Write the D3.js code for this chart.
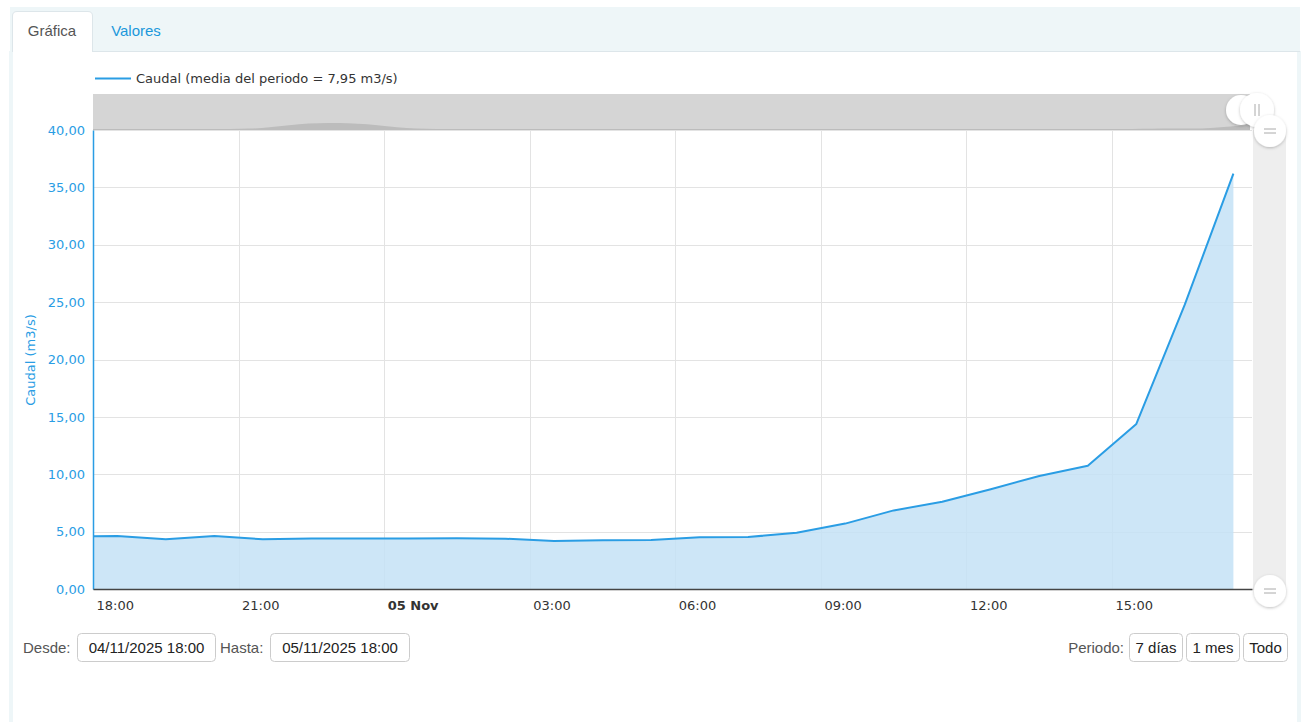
<!DOCTYPE html>
<html><head><meta charset="utf-8">
<script src="https://cdn.jsdelivr.net/npm/d3@7"></script>
<style>
html,body{margin:0;padding:0;background:#fff;}
svg{display:block;}
</style></head>
<body>
<svg id="c" width="1303" height="722"></svg>
<script>
// ---- data ----
const timestamps = ["2025-11-04T17:30","2025-11-04T18:30","2025-11-04T19:30","2025-11-04T20:30","2025-11-04T21:30",
 "2025-11-04T22:30","2025-11-04T23:30","2025-11-05T00:30","2025-11-05T01:30","2025-11-05T02:30","2025-11-05T03:30",
 "2025-11-05T04:30","2025-11-05T05:30","2025-11-05T06:30","2025-11-05T07:30","2025-11-05T08:30","2025-11-05T09:30",
 "2025-11-05T10:30","2025-11-05T11:30","2025-11-05T12:30","2025-11-05T13:30","2025-11-05T14:30","2025-11-05T15:30",
 "2025-11-05T16:30","2025-11-05T17:30"];
const caudal = [4.58,4.62,4.33,4.62,4.33,4.40,4.40,4.40,4.42,4.38,4.18,4.25,4.27,4.50,4.53,4.90,5.70,6.85,7.60,8.70,9.85,10.74,14.38,24.8,36.2];
const yTicks = [0,5,10,15,20,25,30,35,40];
const xStart = "2025-11-04T18:00";
const xEnd = "2025-11-05T17:53";
// navigator (whole history, coarse)
const navValues = [1,1,1,1,1,1,1,1,1.3,3,5.5,7.5,8,7.6,6.5,4,2,1.3,1.1,1,1,1,1,1,1,1,1,1,1,1,1,1,1,1,1,1,1,1,1,1,1,1,1,1,1,1,1,1,1,1,1,1,1,1.2,1.5,1.6,1.5,1.8,4,5.5];
const legendLabel = "Caudal (media del periodo = 7,95 m3/s)";
const yTitle = "Caudal (m3/s)";
const desde = "04/11/2025 18:00", hasta = "05/11/2025 18:00";
const periodos = ["7 días","1 mes","Todo"];

// ---- layout ----
const svg = d3.select("#c");
const L=93, R=1252, T=130, B=589;
const blue="#2a9de4", fill="#c4e2f6";
const chartFont="'DejaVu Sans', Verdana, sans-serif";
const uiFont="'Liberation Sans', Arial, sans-serif";

// panel
svg.append("rect").attr("x",10).attr("y",7).attr("width",1290).attr("height",44).attr("fill","#eef6f8");
svg.append("rect").attr("x",9).attr("y",51).attr("width",4).attr("height",671).attr("fill","#eef6f8");
svg.append("rect").attr("x",1297).attr("y",51).attr("width",4).attr("height",671).attr("fill","#eef6f8");
svg.append("line").attr("x1",93).attr("x2",1300).attr("y1",51.5).attr("y2",51.5).attr("stroke","#dde6ea");
svg.append("path").attr("d","M12.5,52 V16 Q12.5,11.5 17,11.5 H88 Q92.5,11.5 92.5,16 V52").attr("fill","#fff").attr("stroke","#dde6ea");
svg.append("text").attr("x",52).attr("y",36).attr("text-anchor","middle").attr("font-family",uiFont).attr("font-size",15).attr("fill","#555").text("Gráfica");
svg.append("text").attr("x",136).attr("y",36).attr("text-anchor","middle").attr("font-family",uiFont).attr("font-size",15).attr("fill","#1b98db").text("Valores");

// scales
const x = d3.scaleTime().domain([new Date(xStart), new Date(xEnd)]).range([L,R]);
const y = d3.scaleLinear().domain([0,40]).range([B,T]);
const loc = d3.formatLocale({decimal:",",thousands:".",grouping:[3],currency:["","€"]});
const fmtY = loc.format(".2f");
const data = timestamps.map((t,i)=>({t:new Date(t), v:caudal[i]}));

// legend
svg.append("line").attr("x1",95).attr("x2",131).attr("y1",78.5).attr("y2",78.5).attr("stroke",blue).attr("stroke-width",2);
svg.append("text").attr("x",136).attr("y",83).attr("font-family",chartFont).attr("font-size",13).attr("fill","#333").text(legendLabel);

// navigator
const nx = d3.scaleLinear().domain([0,navValues.length-1]).range([L,1250]);
const ny = d3.scaleLinear().domain([0,40]).range([130,94]);
svg.append("rect").attr("x",L).attr("y",94).attr("width",1250-L).attr("height",36).attr("fill","#d5d5d5");
svg.append("path").datum(navValues).attr("fill","#bcbcbc")
  .attr("d",d3.area().x((d,i)=>nx(i)).y0(130).y1(d=>ny(d)).curve(d3.curveBasis));

// grid
const g = svg.append("g");
g.selectAll(".hg").data(yTicks).join("line").attr("x1",L).attr("x2",R)
  .attr("y1",d=>Math.round(y(d))+0.5).attr("y2",d=>Math.round(y(d))+0.5).attr("stroke","#e3e3e3");
const xt = x.ticks(d3.timeHour.every(3));
g.selectAll(".vg").data(xt).join("line").attr("y1",T).attr("y2",B)
  .attr("x1",d=>Math.round(x(d))+0.5).attr("x2",d=>Math.round(x(d))+0.5).attr("stroke","#e3e3e3");

// series
svg.append("clipPath").attr("id","clip").append("rect").attr("x",L).attr("y",T-5).attr("width",R-L).attr("height",B-T+5);
const s = svg.append("g").attr("clip-path","url(#clip)");
s.append("path").datum(data).attr("fill",fill).attr("fill-opacity",0.85)
  .attr("d",d3.area().x(d=>x(d.t)).y0(y(0)).y1(d=>y(d.v)));
s.append("path").datum(data).attr("fill","none").attr("stroke",blue).attr("stroke-width",2).attr("stroke-linejoin","round")
  .attr("d",d3.line().x(d=>x(d.t)).y(d=>y(d.v)));

// y axis
const ya = svg.append("g").attr("transform",`translate(${L},0)`)
  .call(d3.axisLeft(y).tickValues(yTicks).tickFormat(fmtY).tickSize(0).tickPadding(8));
ya.select(".domain").attr("stroke",blue).attr("stroke-width",1.5);
ya.selectAll("text").attr("font-family",chartFont).attr("font-size",13).attr("fill",blue);
svg.append("text").attr("transform","translate(35,360) rotate(-90)").attr("text-anchor","middle")
  .attr("font-family",chartFont).attr("font-size",13).attr("fill",blue).text(yTitle);

// x axis
const xa = svg.append("g").attr("transform",`translate(0,${B})`)
  .call(d3.axisBottom(x).tickValues(xt).tickSize(0).tickPadding(12)
    .tickFormat(d=> d.getHours()===0 ? d3.timeFormat("%d %b")(d) : d3.timeFormat("%H:%M")(d)));
xa.select(".domain").attr("stroke","#444").attr("stroke-width",1.5);
xa.selectAll("text").attr("font-family",chartFont).attr("font-size",13).attr("fill","#333")
  .attr("text-anchor","start").attr("dx",3)
  .attr("font-weight",d=>d.getHours()===0?"bold":"normal");

// y scrollbar
svg.append("rect").attr("x",1253).attr("y",130).attr("width",33).attr("height",460).attr("fill","#eeeeee");
const defs = svg.append("defs");
const f = defs.append("filter").attr("id","sh").attr("x","-50%").attr("y","-50%").attr("width","200%").attr("height","200%");
f.append("feDropShadow").attr("dx",0).attr("dy",1).attr("stdDeviation",1.5).attr("flood-color","#000").attr("flood-opacity",0.25);
function handle(cx,cy,r,kind){
  svg.append("circle").attr("cx",cx).attr("cy",cy).attr("r",r).attr("fill","#fff").attr("filter","url(#sh)");
  if(kind==="h"){
    [-2,2].forEach(d=>svg.append("line").attr("x1",cx+d).attr("x2",cx+d).attr("y1",cy-6).attr("y2",cy+6).attr("stroke","#aaa"));
  } else if(kind==="v"){
    [-2,2].forEach(d=>svg.append("line").attr("x1",cx-6).attr("x2",cx+6).attr("y1",cy+d).attr("y2",cy+d).attr("stroke","#aaa"));
  }
}
handle(1241,110,15,"");
handle(1257,110,17,"h");
handle(1270,131,16,"v");
handle(1270,591,16,"v");

// bottom controls
function box(x0,w,txt){
  svg.append("rect").attr("x",x0+0.5).attr("y",633.5).attr("width",w).attr("height",28).attr("rx",4).attr("fill","#fff").attr("stroke","#ccc");
  svg.append("text").attr("x",x0+w/2+0.5).attr("y",653).attr("text-anchor","middle").attr("font-family",uiFont).attr("font-size",15).attr("fill","#222").text(txt);
}
svg.append("text").attr("x",23).attr("y",653).attr("font-family",uiFont).attr("font-size",15).attr("fill","#555").text("Desde:");
box(77,138,desde);
svg.append("text").attr("x",220).attr("y",653).attr("font-family",uiFont).attr("font-size",15).attr("fill","#555").text("Hasta:");
box(270,139,hasta);
svg.append("text").attr("x",1124).attr("y",653).attr("text-anchor","end").attr("font-family",uiFont).attr("font-size",15).attr("fill","#555").text("Periodo:");
const bx=[1129,1186,1243], bw=[53,53,44];
periodos.forEach((p,i)=>box(bx[i],bw[i],p));
</script>
</body></html>
